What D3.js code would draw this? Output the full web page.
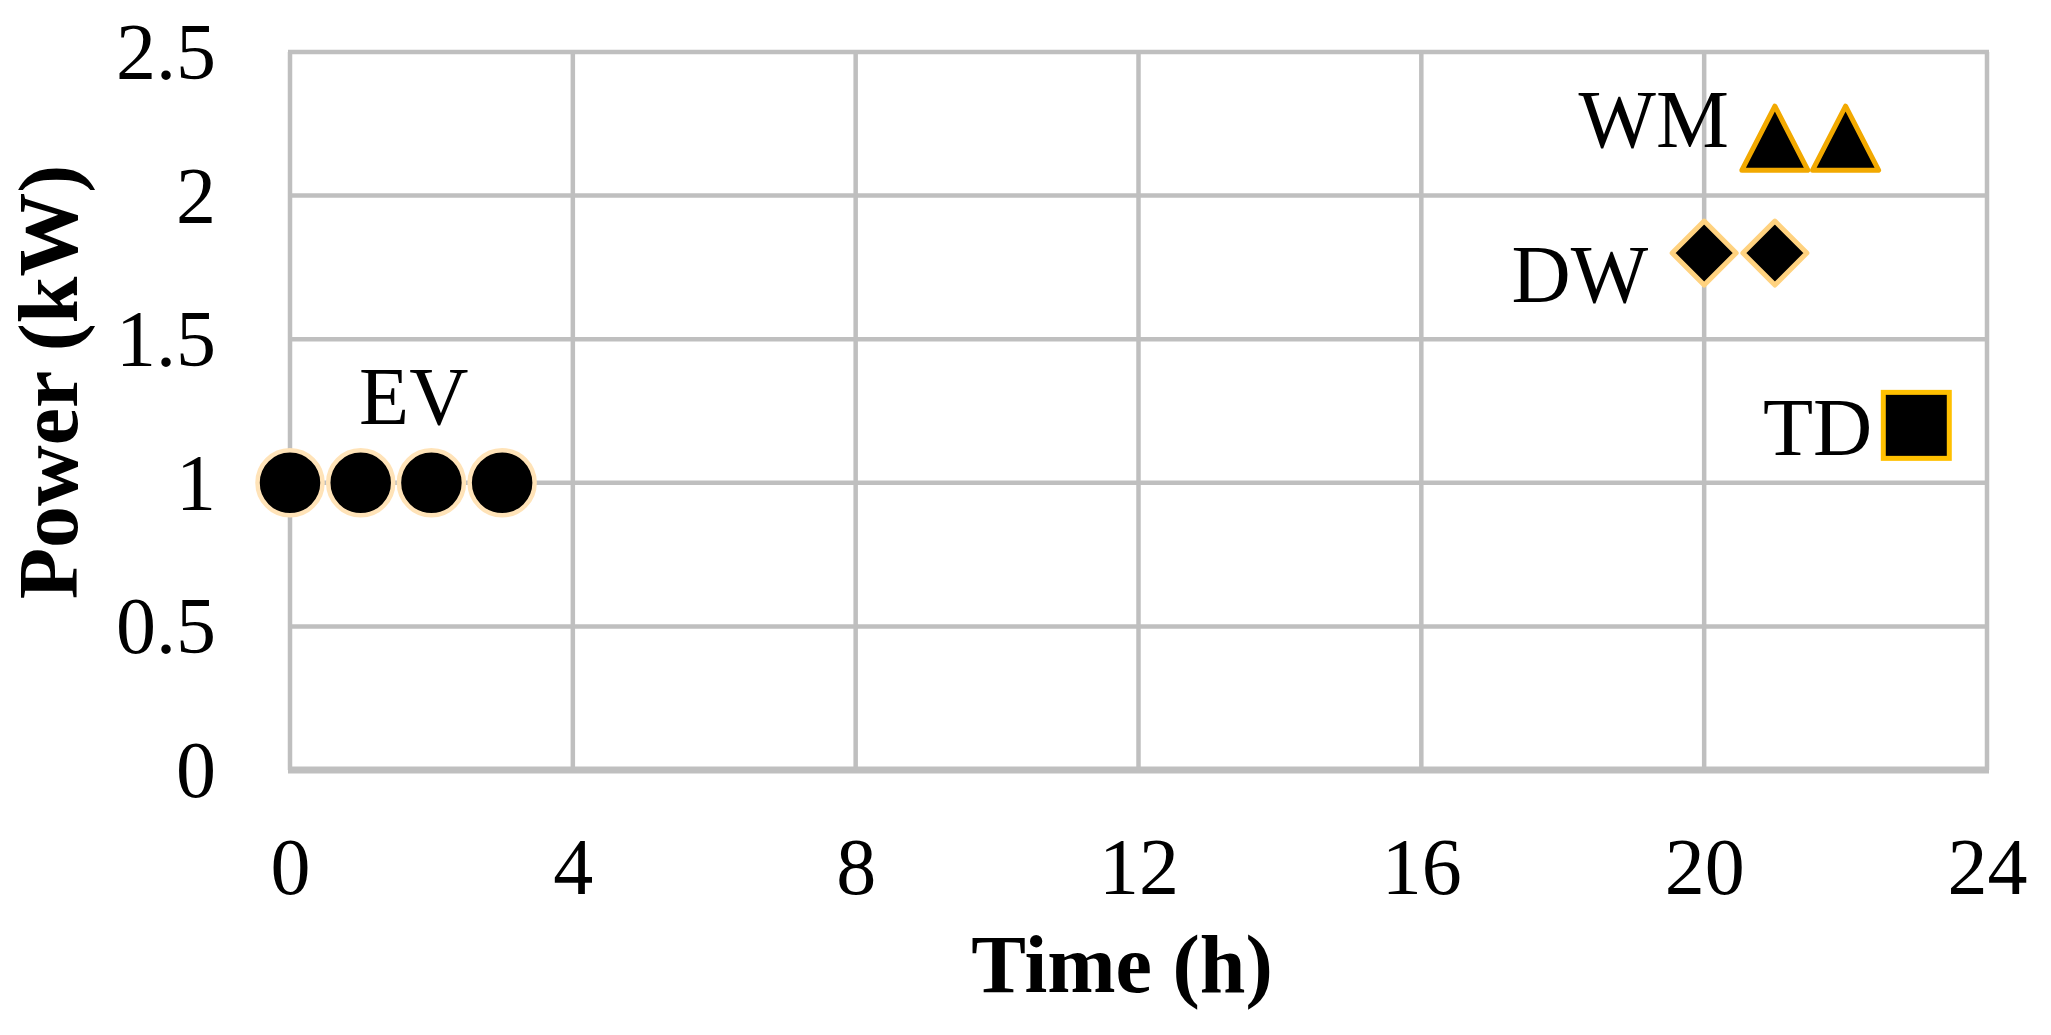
<!DOCTYPE html>
<html>
<head>
<meta charset="utf-8">
<script src="https://cdn.jsdelivr.net/npm/d3@7/dist/d3.min.js"></script>
<style>
  html, body { margin: 0; padding: 0; background: #fff; }
  svg { display: block; }
  text { font-family: "Liberation Serif", "Times New Roman", serif; fill: #000; }
</style>
</head>
<body>
<svg id="chart" width="2051" height="1035"></svg>
<script>
// ---- data ----
const xTicks = [0, 4, 8, 12, 16, 20, 24];
const yTicks = [0, 0.5, 1, 1.5, 2, 2.5];
const yTickLabels = ["0", "0.5", "1", "1.5", "2", "2.5"];

const evTime = [0, 1, 2, 3];
const evPower = [1, 1, 1, 1];
const dwTime = [20, 21];
const dwPower = [1.8, 1.8];
const wmTime = [21, 22];
const wmPower = [2.2, 2.2];
const tdTime = [23];
const tdPower = [1.2];

const seriesNames = ["EV", "DW", "WM", "TD"];
const xTitle = "Time (h)";
const yTitle = "Power (kW)";

// ---- layout ----
const W = 2051, H = 1035;
const plot = { left: 290, right: 1987, top: 52, bottom: 770 };
const svg = d3.select("#chart");

const x = d3.scaleLinear().domain([0, 24]).range([plot.left, plot.right]);
const y = d3.scaleLinear().domain([0, 2.5]).range([plot.bottom, plot.top]);

const gridColor = "#BFBFBF";

// vertical grid lines
svg.append("g").selectAll("line").data(xTicks).join("line")
  .attr("x1", d => x(d)).attr("x2", d => x(d))
  .attr("y1", plot.top).attr("y2", plot.bottom)
  .attr("stroke", gridColor).attr("stroke-width", 4.5);

// horizontal grid lines
svg.append("g").selectAll("line").data(yTicks.filter(d => d !== 0)).join("line")
  .attr("x1", plot.left - 2).attr("x2", plot.right + 2)
  .attr("y1", d => y(d)).attr("y2", d => y(d))
  .attr("stroke", gridColor).attr("stroke-width", 4.5);

// bottom axis line
svg.append("line")
  .attr("x1", plot.left - 2).attr("x2", plot.right + 2)
  .attr("y1", y(0)).attr("y2", y(0))
  .attr("stroke", gridColor).attr("stroke-width", 7);

// axes (tick labels only) via d3 axes
const xAxis = d3.axisBottom(x).tickValues(xTicks).tickSize(0).tickPadding(0).tickFormat(d3.format("d"));
const gx = svg.append("g").attr("transform", `translate(0,${y(0)})`).call(xAxis);
gx.select(".domain").remove();
gx.selectAll("text")
  .attr("y", 124).attr("dy", 0)
  .style("font-family", '"Liberation Serif", "Times New Roman", serif')
  .style("font-size", "80px").attr("fill", "#000");

const yAxis = d3.axisLeft(y).tickValues(yTicks).tickSize(0).tickPadding(0)
  .tickFormat((d, i) => yTickLabels[i]);
const gy = svg.append("g").attr("transform", `translate(${plot.left},0)`).call(yAxis);
gy.select(".domain").remove();
gy.selectAll("text")
  .attr("x", -74).attr("dy", "0.33em")
  .style("font-family", '"Liberation Serif", "Times New Roman", serif')
  .style("font-size", "80px").attr("fill", "#000");

// axis titles
svg.append("text")
  .attr("x", 1122).attr("y", 992)
  .attr("text-anchor", "middle")
  .style("font-size", "82px").style("font-weight", "bold")
  .text(xTitle);

svg.append("text")
  .attr("transform", `translate(77,382) rotate(-90)`)
  .attr("text-anchor", "middle")
  .style("font-size", "84px").style("font-weight", "bold")
  .text(yTitle);

// ---- markers ----
const zip = (xs, ys) => xs.map((t, i) => ({ t, p: ys[i] }));

// EV circles
svg.append("g").selectAll("circle").data(zip(evTime, evPower)).join("circle")
  .attr("cx", d => x(d.t)).attr("cy", d => y(d.p))
  .attr("r", 32.5)
  .attr("fill", "#000").attr("stroke", "#FFE3B8").attr("stroke-width", 4.5);

// DW diamonds
const dh = 32;
svg.append("g").selectAll("path").data(zip(dwTime, dwPower)).join("path")
  .attr("d", d => {
    const cx = x(d.t), cy = y(d.p);
    return `M${cx},${cy - dh}L${cx + dh},${cy}L${cx},${cy + dh}L${cx - dh},${cy}Z`;
  })
  .attr("fill", "#000").attr("stroke", "#FFD27F").attr("stroke-width", 5)
  .attr("stroke-linejoin", "round");

// WM triangles
const tw = 33, th = 32;
svg.append("g").selectAll("path").data(zip(wmTime, wmPower)).join("path")
  .attr("d", d => {
    const cx = x(d.t), cy = y(d.p);
    return `M${cx},${cy - th}L${cx + tw},${cy + th}L${cx - tw},${cy + th}Z`;
  })
  .attr("fill", "#000").attr("stroke", "#F2A900").attr("stroke-width", 5)
  .attr("stroke-linejoin", "round");

// TD squares
const sh = 33;
svg.append("g").selectAll("rect").data(zip(tdTime, tdPower)).join("rect")
  .attr("x", d => x(d.t) - sh).attr("y", d => y(d.p) - sh)
  .attr("width", 2 * sh).attr("height", 2 * sh)
  .attr("fill", "#000").attr("stroke", "#FFC000").attr("stroke-width", 5);

// ---- data labels ----
const labelFont = "82px";
// EV: above the series
svg.append("text")
  .attr("x", x(1.75)).attr("y", y(evPower[0]) - 59)
  .attr("text-anchor", "middle").style("font-size", labelFont)
  .text(seriesNames[0]);
// DW: left of first point
svg.append("text")
  .attr("x", x(dwTime[0]) - 56).attr("y", y(dwPower[0]) + 49)
  .attr("text-anchor", "end").style("font-size", labelFont)
  .text(seriesNames[1]);
// WM: left of first point
svg.append("text")
  .attr("x", x(wmTime[0]) - 46).attr("y", y(wmPower[0]) + 9)
  .attr("text-anchor", "end").style("font-size", labelFont)
  .text(seriesNames[2]);
// TD: left of point
svg.append("text")
  .attr("x", x(tdTime[0]) - 44).attr("y", y(tdPower[0]) + 30)
  .attr("text-anchor", "end").style("font-size", labelFont)
  .text(seriesNames[3]);
</script>
</body>
</html>
